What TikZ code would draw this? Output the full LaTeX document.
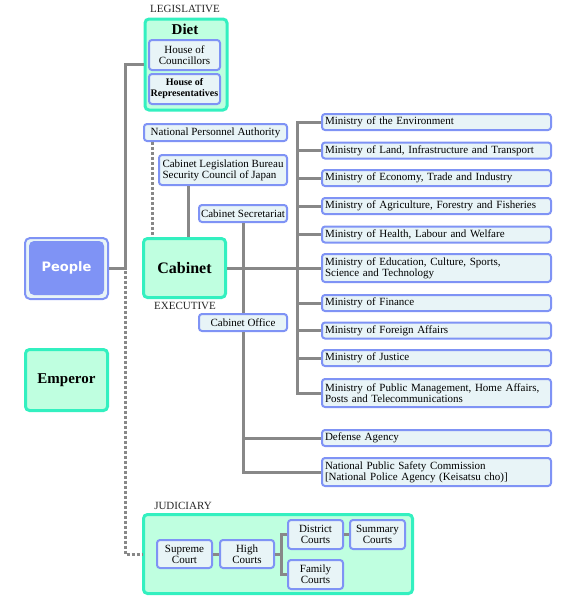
\documentclass[tikz,border=0pt]{standalone}
\usepackage{fontspec}
\setmainfont{Liberation Serif}
\newfontfamily\peoplefont{DejaVu Sans}
\definecolor{mintfill}{HTML}{BFFFE0}
\definecolor{mintline}{HTML}{33F0C0}
\definecolor{peri}{HTML}{7F93F5}
\definecolor{boxfill}{HTML}{E8F4F7}
\definecolor{conn}{HTML}{888888}
\definecolor{txt}{HTML}{000000}
\begin{document}
\begin{tikzpicture}[x=1pt,y=-1pt,
  mintbox/.style={draw=mintline, fill=mintfill, line width=3pt, rounded corners=4pt, inner sep=0pt, text=txt},
  subbox/.style={draw=peri, fill=boxfill, line width=2pt, rounded corners=3pt, inner sep=0pt, text=txt,
                 font=\fontsize{11}{11}\selectfont, align=center},
  minbox/.style={subbox, anchor=west, minimum width=229pt, text width=223pt, align=left, inner xsep=3pt},
  conline/.style={draw=conn, line width=3pt},
  dotline/.style={draw=conn, line width=3pt, dash pattern=on 3pt off 2pt},
  branch/.style={font=\fontsize{11}{11}\selectfont, text=black!85}
]
\useasboundingbox (0,0) rectangle (560,600);

% ---------- Legislative ----------
\node[branch] (legis) at (185,9) {LEGISLATIVE};
\node[mintbox, anchor=north west, minimum width=82pt, minimum height=91pt] (diet) at (143.5,17.5) {};
\node[font=\fontsize{15}{15}\selectfont\bfseries, text=txt] (diettitle) at (185,29) {Diet};
\node[subbox, minimum width=71pt, minimum height=30pt] (councillors) at (184.5,55) {House of\\Councillors};
\node[subbox, minimum width=71pt, minimum height=30pt, font=\fontsize{10}{11}\selectfont\bfseries] (reps) at (184.5,89) {House of\\Representatives};

% ---------- People / Emperor ----------
\node[draw=peri, fill=boxfill, line width=2pt, rounded corners=5pt, minimum width=83pt, minimum height=61pt] (peopleouter) at (66.5,268.5) {};
\node[fill=peri, rounded corners=5pt, minimum width=75pt, minimum height=54pt, text=white,
      font=\fontsize{13}{13}\selectfont\peoplefont\bfseries] (people) at (66.5,268) {People};
\node[mintbox, minimum width=82pt, minimum height=61pt, font=\fontsize{15}{15}\selectfont\bfseries] (emperor) at (66.5,380) {Emperor};

% ---------- Executive ----------
\node[subbox, minimum width=143pt, minimum height=17pt] (npa) at (215.5,132.5) {National Personnel Authority};
\node[subbox, minimum width=128pt, minimum height=30pt, align=left] (clb) at (223,170) {Cabinet Legislation Bureau\\Security Council of Japan};
\node[subbox, minimum width=88pt, minimum height=17pt] (sec) at (243,213.5) {Cabinet Secretariat};
\node[mintbox, minimum width=82pt, minimum height=59pt, font=\fontsize{16}{16}\selectfont\bfseries] (cabinet) at (184.5,268) {Cabinet};
\node[branch] (exec) at (185,306) {EXECUTIVE};
\node[subbox, minimum width=88pt, minimum height=17pt] (office) at (243,322.5) {Cabinet Office};

% ministries
\node[minbox, minimum height=16pt] (m1) at (321,122) {Ministry of the Environment};
\node[minbox, minimum height=16pt] (m2) at (321,150.5) {Ministry of Land, Infrastructure and Transport};
\node[minbox, minimum height=16pt] (m3) at (321,178) {Ministry of Economy, Trade and Industry};
\node[minbox, minimum height=16pt] (m4) at (321,206) {Ministry of Agriculture, Forestry and Fisheries};
\node[minbox, minimum height=16pt] (m5) at (321,234.5) {Ministry of Health, Labour and Welfare};
\node[minbox, minimum height=28pt] (m6) at (321,268) {Ministry of Education, Culture, Sports,\\Science and Technology};
\node[minbox, minimum height=16pt] (m7) at (321,303) {Ministry of Finance};
\node[minbox, minimum height=16pt] (m8) at (321,330.5) {Ministry of Foreign Affairs};
\node[minbox, minimum height=16pt] (m9) at (321,358) {Ministry of Justice};
\node[minbox, minimum height=28pt] (m10) at (321,393) {Ministry of Public Management, Home Affairs,\\Posts and Telecommunications};
\node[minbox, minimum height=16pt] (defense) at (321,438) {Defense Agency};
\node[minbox, minimum height=28pt] (npsc) at (321,472) {National Public Safety Commission\\{[}National Police Agency (Keisatsu cho){]}};

% ---------- Judiciary ----------
\node[branch] (judlabel) at (183,506) {JUDICIARY};
\node[mintbox, minimum width=269pt, minimum height=79pt] (judiciary) at (278,554) {};
\node[subbox, minimum width=55pt, minimum height=28pt] (supreme) at (184.5,554) {Supreme\\Court};
\node[subbox, minimum width=54pt, minimum height=28pt] (high) at (247,554) {High\\Courts};
\node[subbox, minimum width=55pt, minimum height=29pt] (district) at (315.5,534.5) {District\\Courts};
\node[subbox, minimum width=55pt, minimum height=29pt] (summary) at (377.5,534.5) {Summary\\Courts};
\node[subbox, minimum width=55pt, minimum height=29pt] (family) at (315.5,574.5) {Family\\Courts};

% ---------- connectors ----------
\coordinate (pj) at ([xshift=16pt]peopleouter.east);
\draw[conline] (peopleouter.east) -- (pj) |- (diet.west);
\draw[dotline] ([yshift=-2pt]pj) |- (judiciary.west);

\draw[dotline] ([xshift=9pt]npa.south west) -- ([xshift=9pt]npa.south west |- cabinet.north);
\draw[conline] ([xshift=3.5pt]cabinet.north) -- ([xshift=3.5pt]cabinet.north |- clb.south);

\draw[conline] (sec.south) -- (office.north);
\draw[conline] (office.south) |- (npsc.west);
\draw[conline] (office.south |- defense.west) -- (defense.west);

\coordinate (mt) at ([xshift=-24pt]m1.west);
\draw[conline] (m1.west) -- (mt) |- (m10.west);
\foreach \m in {m2,m3,m4,m5,m6,m7,m8,m9}
  \draw[conline] (\m.west) -- (\m.west -| mt);
\draw[conline] (cabinet.east) -- (cabinet.east -| mt);

\draw[conline] (supreme.east) -- (high.west);
\draw[conline] (high.east) -- ++(6,0) coordinate (hj);
\draw[conline] (district.west) -| (hj) |- (family.west);
\draw[conline] (district.east) -- (summary.west);
\end{tikzpicture}
\end{document}
